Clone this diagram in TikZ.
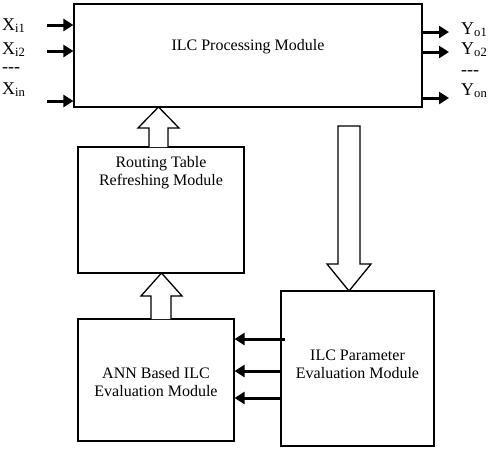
\documentclass[tikz,border=0pt]{standalone}
\usepackage{fontspec}
\setmainfont{Liberation Serif}
\usetikzlibrary{arrows.meta}
\begin{document}
\begin{tikzpicture}[x=1pt,y=-1pt,
  box/.style={draw, line width=1.2pt, inner sep=0pt},
  txt/.style={font=\fontsize{16}{18}\selectfont, align=center, inner sep=0pt},
  lab/.style={font=\fontsize{18}{20}\selectfont, anchor=base west, inner sep=0pt},
  sig/.style={line width=3pt, -{Triangle[length=10pt,width=12pt]}},
  blockarrow/.style={draw, line width=1.3pt, fill=white, line join=miter}]
\useasboundingbox (0,0) rectangle (489,448);

% boxes
\node[box, minimum width=348pt, minimum height=103pt] (main) at (248,55.5) {};
\node[box, minimum width=166pt, minimum height=126pt] (routing) at (161,210) {};
\node[box, minimum width=156pt, minimum height=122pt] (ann) at (156,380) {};
\node[box, minimum width=153pt, minimum height=155pt] (param) at (357.5,368.5) {};

% texts
\node[txt] (maintxt) at (248,47) {ILC Processing Module};
\node[txt] (routingtxt) at (161,173) {Routing Table\\Refreshing Module};
\node[txt] (anntxt) at (156,382) {ANN Based ILC\\Evaluation Module};
\node[txt] (paramtxt) at (357.5,364) {ILC Parameter\\Evaluation Module};

% block arrows
\draw[blockarrow] (149,147) -- (149,128) -- (138,128) -- (158.5,107) -- (179,128) -- (168,128) -- (168,147);
\draw[blockarrow] (151,319) -- (151,296) -- (141,296) -- (161.5,273) -- (182,296) -- (171,296) -- (171,319);
\draw[blockarrow] (338,126) -- (338,264) -- (327,264) -- (349,291) -- (371,264) -- (360,264) -- (360,126) -- cycle;

% inputs
\coordinate (i1) at (47,25);
\coordinate (i2) at (47,51);
\coordinate (in) at (47,101);
\draw[sig] (i1) -- (i1 -| main.west);
\draw[sig] (i2) -- (i2 -| main.west);
\draw[sig] (in) -- (in -| main.west);
\node[lab] (xi1) at (2,30) {X\textsubscript{i1}};
\node[lab] (xi2) at (2,54) {X\textsubscript{i2}};
\node[lab] (xdots) at (2,72) {-{}-{}-};
\node[lab] (xin) at (2,94) {X\textsubscript{in}};

% outputs
\coordinate (o1) at (449,32);
\coordinate (o2) at (449,52);
\coordinate (on) at (449,98);
\draw[sig] (o1 -| main.east) -- (o1);
\draw[sig] (o2 -| main.east) -- (o2);
\draw[sig] (on -| main.east) -- (on);
\node[lab] (yo1) at (461,34) {Y\textsubscript{o1}};
\node[lab] (yo2) at (461,54) {Y\textsubscript{o2}};
\node[lab] (ydots) at (461,75) {-{}-{}-};
\node[lab] (yon) at (461,95) {Y\textsubscript{on}};

% parameter -> ANN arrows
\coordinate (a1) at (285,339);
\coordinate (a2) at (285,371);
\coordinate (a3) at (285,398);
\draw[sig] (a1) -- (a1 -| ann.east);
\draw[sig] (a2 -| param.west) -- (a2 -| ann.east);
\draw[sig] (a3 -| param.west) -- (a3 -| ann.east);
\end{tikzpicture}
\end{document}
